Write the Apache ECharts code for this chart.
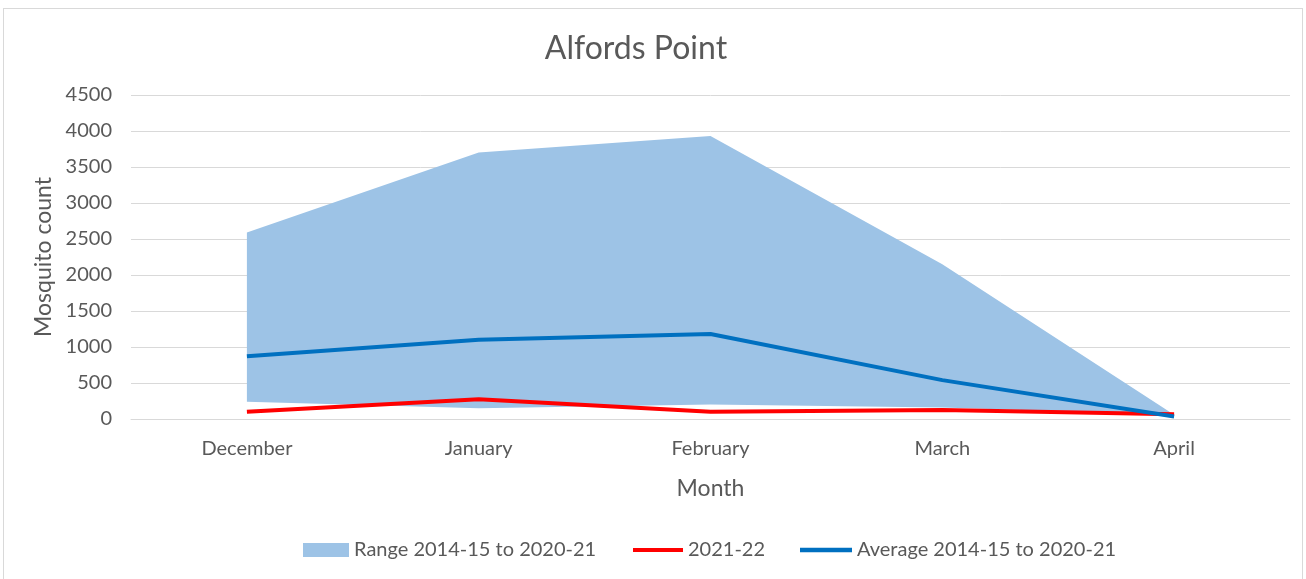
<!DOCTYPE html>
<html><head><meta charset="utf-8">
<script src="https://cdn.jsdelivr.net/npm/echarts@6/dist/echarts.min.js"></script>
<style>
html,body{margin:0;padding:0;background:#fff;}
#frame{position:absolute;left:3px;top:8px;width:1300px;height:580px;border:1px solid #d9d9d9;box-sizing:border-box;}
#c{position:absolute;left:0;top:0;width:1306px;height:579px;}
</style></head>
<body><div id="frame"></div><div id="c"></div>
<script>
const months = ['December','January','February','March','April'];
const rangeLow = [240, 150, 200, 160, 40];
const rangeHigh = [2590, 3700, 3930, 2150, 60];
const current = [100, 275, 100, 125, 65];
const average = [870, 1100, 1180, 540, 35];
const yTicks = [0, 500, 1000, 1500, 2000, 2500, 3000, 3500, 4000, 4500];

const diff = rangeHigh.map((v, i) => v - rangeLow[i]);
const font = 'Lato, "Liberation Sans", sans-serif';
const grey = '#595959';
const lineIcon = 'path://M0,5 L48,5 L48,9 L0,9 Z';
const legendText = {fontFamily: font, fontSize: 20, color: grey};
const chart = echarts.init(document.getElementById('c'));
chart.setOption({
  animation: false,
  title: {text: 'Alfords Point', left: 631, textAlign: 'center', top: 28,
    textStyle: {fontFamily: font, fontSize: 32, fontWeight: 'normal', color: grey}},
  grid: {left: 131, right: 16, top: 95, bottom: 160},
  legend: [
    {left: 298, bottom: 14, itemWidth: 46, itemHeight: 14, textStyle: legendText,
     data: [{name: 'Range 2014-15 to 2020-21', icon: 'rect'}]},
    {left: 628, bottom: 14, itemWidth: 50, itemHeight: 14, textStyle: legendText,
     data: [{name: '2021-22', icon: lineIcon}]},
    {left: 795, bottom: 14, itemWidth: 52, itemHeight: 14, textStyle: legendText,
     data: [{name: 'Average 2014-15 to 2020-21', icon: lineIcon}]}
  ],
  xAxis: {
    type: 'category', data: months, boundaryGap: true,
    name: 'Month', nameLocation: 'middle', nameGap: 58,
    nameTextStyle: {fontFamily: font, fontSize: 23, color: grey},
    axisLine: {lineStyle: {color: '#d9d9d9'}}, axisTick: {show: false},
    axisLabel: {fontFamily: font, fontSize: 20, color: grey, margin: 20}
  },
  yAxis: {
    type: 'value', min: 0, max: 4500, interval: 500,
    name: 'Mosquito count', nameLocation: 'middle', nameGap: 73,
    nameTextStyle: {fontFamily: font, fontSize: 23, color: grey},
    axisLabel: {fontFamily: font, fontSize: 20, color: grey, margin: 19,
      formatter: v => yTicks.includes(v) ? String(v) : ''},
    splitLine: {lineStyle: {color: '#d9d9d9'}}
  },
  series: [
    {name: 'low', type: 'line', stack: 'r', data: rangeLow, symbol: 'none',
     lineStyle: {opacity: 0}, silent: true},
    {name: 'Range 2014-15 to 2020-21', type: 'line', stack: 'r', data: diff, symbol: 'none',
     lineStyle: {opacity: 0}, areaStyle: {color: '#9dc3e6', opacity: 1}, itemStyle: {color: '#9dc3e6'}},
    {name: '2021-22', type: 'line', data: current, symbol: 'none',
     lineStyle: {color: '#ff0000', width: 4}, itemStyle: {color: '#ff0000'}},
    {name: 'Average 2014-15 to 2020-21', type: 'line', data: average, symbol: 'none',
     lineStyle: {color: '#0070c0', width: 4}, itemStyle: {color: '#0070c0'}}
  ]
});
</script></body></html>
